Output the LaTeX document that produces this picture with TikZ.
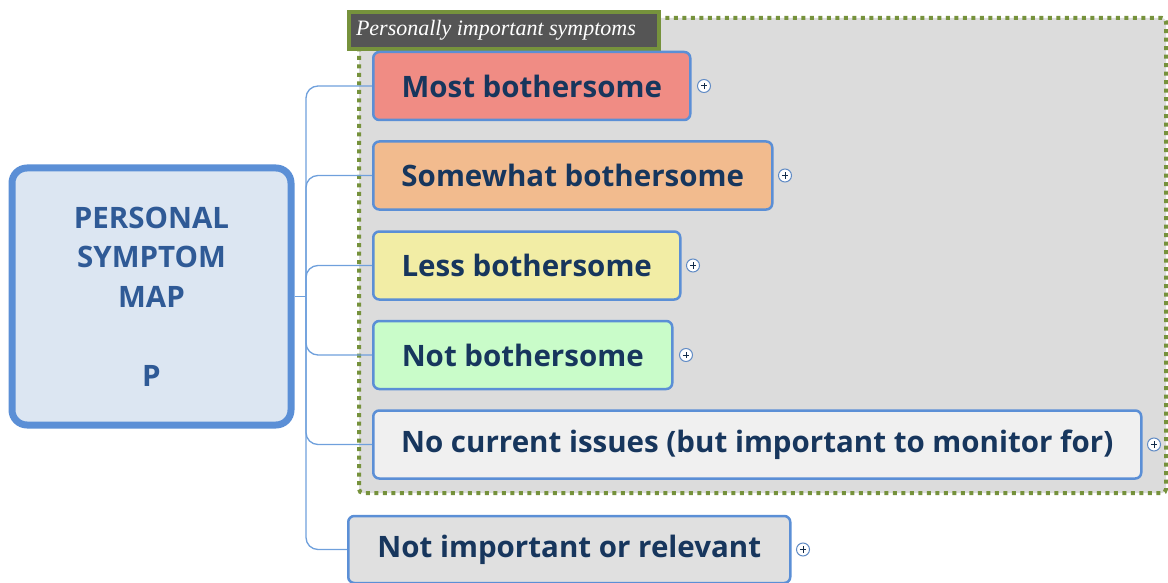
\documentclass[tikz,border=0pt]{standalone}
\usepackage{fontspec}
\setmainfont{Open Sans}
\newfontfamily\labelfont{Liberation Serif}
\usetikzlibrary{positioning}
\definecolor{nodeblue}{HTML}{5B8FD6}
\definecolor{linkblue}{HTML}{6FA0DC}
\definecolor{navy}{HTML}{17365D}
\definecolor{centertext}{HTML}{2F5A96}
\definecolor{centerfill}{HTML}{DCE6F2}
\definecolor{groupgreen}{HTML}{76923C}
\definecolor{groupfill}{HTML}{DCDCDC}
\definecolor{labelfill}{HTML}{555555}
\definecolor{cmost}{HTML}{F08C84}
\definecolor{csome}{HTML}{F2BB8E}
\definecolor{cless}{HTML}{F2EDA5}
\definecolor{cnot}{HTML}{C9FCC9}
\definecolor{cnone}{HTML}{F0F0F0}
\definecolor{cirr}{HTML}{E0E0E0}
\tikzset{
  topicbox/.style={draw=nodeblue, line width=2.5pt, rounded corners=6pt, anchor=west,
    minimum height=68pt, inner xsep=0pt, text=navy, font=\fontsize{29.5}{34}\selectfont\bfseries},
  link/.style={draw=linkblue, line width=1.3pt, rounded corners=12pt},
  plusmark/.style={circle, draw=nodeblue!80!gray, line width=1pt, fill=white, minimum size=13pt, inner sep=0pt},
}
\begin{document}
\begin{tikzpicture}[x=1pt,y=-1pt]
\useasboundingbox (0,0) rectangle (1168,583);
% group
\draw[groupgreen, fill=groupfill, line width=4pt, dash pattern=on 4pt off 4.5pt, rounded corners=4pt] (359,18) rectangle (1166,493);
\node[draw=groupgreen, fill=labelfill, line width=4pt, minimum width=310pt, minimum height=37pt, inner sep=0pt, anchor=north west, text=white, font=\labelfont\itshape\fontsize{22}{24}\selectfont] (lbl) at (347,10) {\makebox[296pt][l]{Personally important symptoms}};
% central
\node[draw=nodeblue, fill=centerfill, line width=7pt, rounded corners=15pt, minimum width=279pt, minimum height=257pt, align=center, text=centertext, font=\fontsize{29.5}{39.5}\selectfont\bfseries] (c) at (151.5,296.5) {PERSONAL\\SYMPTOM\\MAP\\[39.5pt]P};
% children
\node[topicbox, fill=cmost, minimum width=317pt] (n1) at (372,86) {Most bothersome};
\node[topicbox, fill=csome, minimum width=399pt] (n2) at (372,175.5) {Somewhat bothersome};
\node[topicbox, fill=cless, minimum width=307pt] (n3) at (372,265.5) {Less bothersome};
\node[topicbox, fill=cnot, minimum width=299pt] (n4) at (372,355) {Not bothersome};
\node[topicbox, fill=cnone, minimum width=768pt] (n5) at (372,444.5) {No current issues (but important to monitor for)};
\node[topicbox, fill=cirr, minimum height=67pt, minimum width=442pt] (n6) at (347,549.5) {Not important or relevant};
% links
\coordinate (trunk) at (306,296.5);
\draw[link] (c.east) -- (trunk);
\foreach \n in {n1,n2,n3,n4,n5,n6}{
  \draw[link] (trunk) |- (\n.west);
}
% plus marks
\foreach \n/\d in {n1/5.5,n2/4.5,n3/4.5,n4/5.5,n5/4.5,n6/4.5}{
  \node[plusmark, right=\d pt of \n.east] (p\n) {};
  \draw[navy!80!black, line width=1pt] ([xshift=-3.2pt]p\n.center) -- ([xshift=3.2pt]p\n.center) ([yshift=-3.2pt]p\n.center) -- ([yshift=3.2pt]p\n.center);
}
\end{tikzpicture}
\end{document}
